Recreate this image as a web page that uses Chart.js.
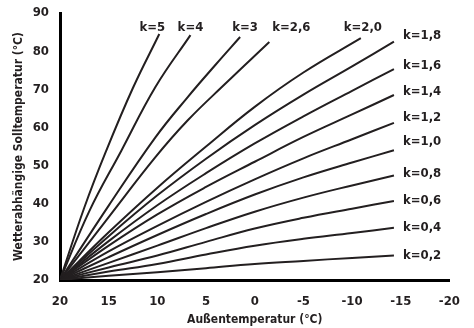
<!DOCTYPE html>
<html lang="de">
<head>
<meta charset="utf-8">
<title>Heizkurven</title>
<script src="https://cdn.jsdelivr.net/npm/chart.js@4.4.1/dist/chart.umd.min.js"></script>
<style>
    html, body { margin: 0; padding: 0; background: #fff; }
    #wrap { width: 474px; height: 328px; }
</style>
</head>
<body>
<div id="wrap"><canvas id="heizkurvenChart" width="474" height="328"></canvas></div>
<script>
// Kurvenbezeichnungen
const kLabels = ['k=0,2', 'k=0,4', 'k=0,6', 'k=0,8', 'k=1,0', 'k=1,2', 'k=1,4', 'k=1,6', 'k=1,8', 'k=2,0', 'k=2,6', 'k=3', 'k=4', 'k=5'];

// Außentemperaturen (x) der flachen Kurven
const aussenFlach = [20, 15, 10, 5, 0, -5, -10, -14.3];

// Solltemperaturen
const k02 = [20, 21.1, 22.0, 23.1, 24.2, 25.0, 25.8, 26.4];
const k04 = [20, 22.2, 24.2, 26.7, 29.0, 30.8, 32.3, 33.7];
const k06 = [20, 23.3, 26.4, 30.0, 33.5, 36.3, 38.7, 40.7];
const k08 = [20, 24.5, 29.0, 33.6, 37.9, 41.6, 44.8, 47.4];
const k10 = [20, 26.0, 31.8, 37.3, 42.4, 46.9, 50.8, 54.0];
const k12 = [20, 27.5, 34.2, 40.5, 46.4, 51.9, 56.9, 61.2];
const k14 = [20, 29.0, 37.2, 44.4, 51.0, 57.5, 63.4, 68.5];
const k16 = [20, 30.2, 39.6, 48.0, 55.8, 62.9, 69.6, 75.3];
const k18 = [20, 31.5, 42.2, 51.8, 60.6, 68.6, 76.0, 82.5];

// Steile Kurven haben eigene x-Werte
const aussenK20 = [20, 15, 10, 5, 0, -5, -10.9];
const k20 = [20, 32.5, 44.2, 55.0, 65.4, 74.4, 83.4];
const aussenK26 = [20, 15, 10.2, 6.9, 3, -1.5];
const k26 = [20, 36.5, 52.2, 61.8, 71.5, 82.4];
const aussenK3 = [20, 15, 10.2, 6.9, 4, 1.5];
const k3 = [20, 39.5, 57.4, 67.9, 76.5, 83.7];
const aussenK4 = [20, 17, 13.7, 10.2, 6.6];
const k4 = [20, 38, 53.9, 70.6, 84.2];
const aussenK5 = [20, 17.5, 15.25, 12.5, 9.8];
const k5 = [20, 39, 53.9, 70.4, 84.5];

// Achsen
const xTicks = [20, 15, 10, 5, 0, -5, -10, -15, -20];
const yTicks = [20, 30, 40, 50, 60, 70, 80, 90];

const kurvenX = [aussenFlach, aussenFlach, aussenFlach, aussenFlach, aussenFlach, aussenFlach, aussenFlach, aussenFlach, aussenFlach, aussenK20, aussenK26, aussenK3, aussenK4, aussenK5];
const kurvenY = [k02, k04, k06, k08, k10, k12, k14, k16, k18, k20, k26, k3, k4, k5];

const LINIE = '#231f20';
const SCHRIFT = '"DejaVu Sans Condensed", "Liberation Sans Narrow", Arial, sans-serif';

// Verschiebung der Beschriftungen: oben (dx) bzw. rechts (dy)
const obenDx = { 'k=2,0': 2, 'k=2,6': 22, 'k=3': 5, 'k=4': 0, 'k=5': -7 };
const rechtsDy = { 'k=0,2': 0, 'k=0,4': 0, 'k=0,6': 0, 'k=0,8': -1.5, 'k=1,0': -8.5, 'k=1,2': -5.5, 'k=1,4': -3.5, 'k=1,6': -3.5, 'k=1,8': -5.5 };

// Plugin für die k-Beschriftungen am Kurvenende
const kBeschriftung = {
    id: 'kBeschriftung',
    afterDatasetsDraw(chart) {
        const ctx = chart.ctx;
        ctx.save();
        ctx.fillStyle = '#231f20';
        ctx.font = 'bold 13px ' + SCHRIFT;
        ctx.textBaseline = 'middle';
        chart.data.datasets.forEach((ds, i) => {
            const meta = chart.getDatasetMeta(i);
            const ende = meta.data[meta.data.length - 1];
            if (ds.label in obenDx) {
                ctx.textAlign = 'center';
                ctx.fillText(ds.label, ende.x + obenDx[ds.label], chart.chartArea.top + 15);
            } else {
                ctx.textAlign = 'left';
                ctx.fillText(ds.label, ende.x + 9, ende.y + rechtsDy[ds.label]);
            }
        });
        ctx.restore();
    }
};

function createHeizkurvenChart() {
    const ctx = document.getElementById('heizkurvenChart').getContext('2d');

    const datasets = kLabels.map((label, i) => ({
        label: label,
        data: kurvenX[i].map((x, j) => ({ x: x, y: kurvenY[i][j] })),
        borderColor: LINIE,
        borderWidth: 2,
        pointRadius: 0,
        fill: false,
        tension: 0.4
    }));

    new Chart(ctx, {
        type: 'line',
        data: { datasets: datasets },
        options: {
            responsive: false,
            animation: false,
            layout: {
                padding: { top: 13, right: 20, left: 0, bottom: 0 }
            },
            plugins: {
                legend: { display: false },
                tooltip: { enabled: false }
            },
            scales: {
                x: {
                    type: 'linear',
                    reverse: true,
                    min: -20,
                    max: 20,
                    afterFit: s => { s.height = 48; },
                    afterBuildTicks: s => { s.ticks = xTicks.map(v => ({ value: v })); },
                    grid: { display: false, drawTicks: false },
                    border: { display: true, width: 3, color: '#000' },
                    ticks: {
                        padding: 14,
                        color: '#231f20',
                        font: { family: SCHRIFT, size: 13, weight: 'bold' },
                        callback: v => String(v)
                    },
                    title: {
                        display: true,
                        text: 'Außentemperatur (°C)',
                        color: '#231f20',
                        font: { family: SCHRIFT, size: 12, weight: 'bold' },
                        padding: { top: 0, bottom: 1 }
                    }
                },
                y: {
                    min: 20,
                    max: 90,
                    afterFit: s => { s.width = 60; s.paddingTop = 0; s.paddingBottom = 0; },
                    afterBuildTicks: s => { s.ticks = yTicks.map(v => ({ value: v })); },
                    grid: { display: false, drawTicks: false },
                    border: { display: true, width: 3, color: '#000' },
                    ticks: {
                        padding: 11,
                        color: '#231f20',
                        font: { family: SCHRIFT, size: 13, weight: 'bold' }
                    },
                    title: {
                        display: true,
                        text: 'Wetterabhängige Solltemperatur (°C)',
                        color: '#231f20',
                        font: { family: SCHRIFT, size: 12, weight: 'bold' },
                        padding: { top: 12, bottom: 0 }
                    }
                }
            }
        },
        plugins: [kBeschriftung]
    });
}

document.addEventListener('DOMContentLoaded', function() {
    createHeizkurvenChart();
});
</script>
</body>
</html>
